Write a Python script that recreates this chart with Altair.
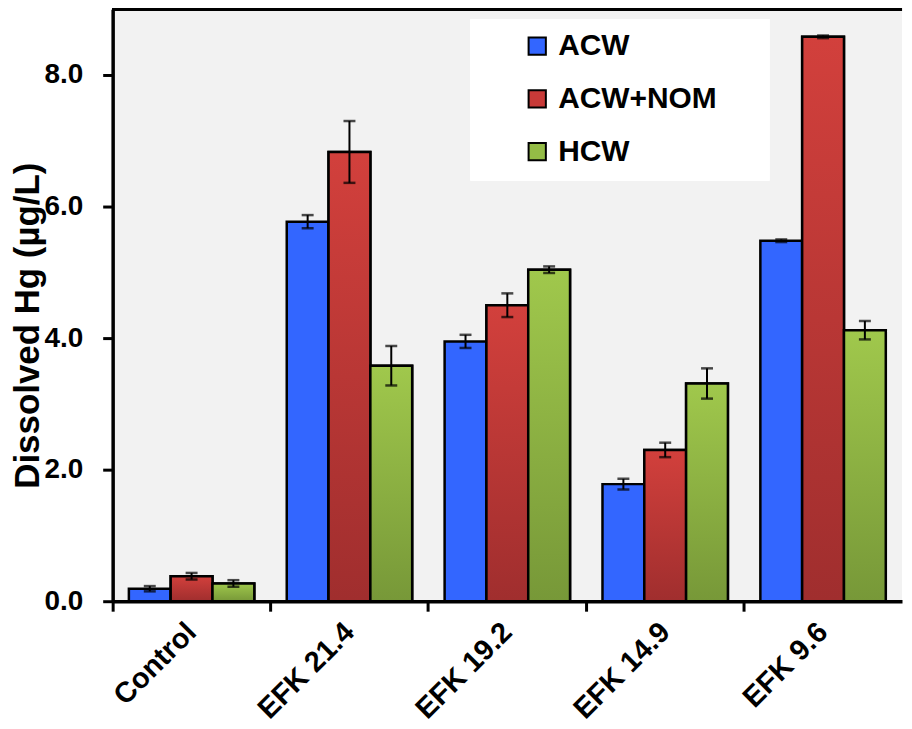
import altair as alt
import pandas as pd

categories = ["Control", "EFK 21.4", "EFK 19.2", "EFK 14.9", "EFK 9.6"]
series = ["ACW", "ACW+NOM", "HCW"]

acw = [0.19, 5.77, 3.95, 1.78, 5.48]
acw_err = [0.04, 0.10, 0.10, 0.08, 0.02]
nom = [0.38, 6.83, 4.50, 2.30, 8.58]
nom_err = [0.05, 0.47, 0.18, 0.11, 0.02]
hcw = [0.27, 3.58, 5.04, 3.31, 4.12]
hcw_err = [0.05, 0.30, 0.05, 0.23, 0.14]

solid_colors = ["#3366FF", "#C83A38", "#94BC46"]

rows = []
for name, vals, errs in [("ACW", acw, acw_err), ("ACW+NOM", nom, nom_err), ("HCW", hcw, hcw_err)]:
    for c, v, e in zip(categories, vals, errs):
        rows.append({"site": c, "series": name, "value": v, "lo": v - e, "hi": v + e})
df = pd.DataFrame(rows)

W = 792
H = 594
FONT = "Liberation Sans"

red_grad = {"gradient": "linear", "x1": 0, "y1": 0, "x2": 0, "y2": 1,
            "stops": [{"offset": 0, "color": "#D2403C"}, {"offset": 1, "color": "#A02E2E"}]}
green_grad = {"gradient": "linear", "x1": 0, "y1": 0, "x2": 0, "y2": 1,
              "stops": [{"offset": 0, "color": "#A0C84C"}, {"offset": 1, "color": "#779838"}]}

x_enc = alt.X("site:N", sort=categories,
              scale=alt.Scale(paddingInner=0, paddingOuter=0),
              axis=alt.Axis(title=None, labelAngle=-45, labelAlign="right", labelBaseline="middle",
                            labelFontSize=29, labelPadding=16, bandPosition=0, tickSize=10))
xo_enc = alt.XOffset("series:N", sort=series,
                     scale=alt.Scale(domain=series, paddingOuter=0.388, paddingInner=0))
y_enc = alt.Y("value:Q", scale=alt.Scale(domain=[0, 9], nice=False),
              axis=alt.Axis(title="Dissolved Hg (µg/L)", values=[0, 2, 4, 6, 8], format=".1f",
                            grid=False, labelFontSize=28, labelPadding=20, tickSize=10,
                            titleFontSize=35, titleAngle=270, titleX=-74, titleY=317,
                            titleAlign="center", titleBaseline="alphabetic"))

base = alt.Chart(df)

box = base.mark_rect(color="white").encode(
    x=alt.value(359), x2=alt.value(659), y=alt.value(10), y2=alt.value(172)
)

bars = base.mark_bar(stroke="black", strokeWidth=2.5).encode(
    x=x_enc, xOffset=xo_enc, y=y_enc,
    color=alt.Color("series:N", sort=series,
                    scale=alt.Scale(domain=series, range=solid_colors),
                    legend=alt.Legend(title=None, orient="none", legendX=411, legendY=22,
                                      symbolType="square", symbolSize=300, symbolStrokeColor="black",
                                      symbolStrokeWidth=2, symbolOpacity=1,
                                      labelFontSize=30, labelFont=FONT, labelFontWeight="bold",
                                      labelOffset=6, rowPadding=23, padding=0))
)

red_bars = base.transform_filter(alt.datum.series == "ACW+NOM").mark_bar(
    fill=red_grad, stroke="black", strokeWidth=2.5).encode(x=x_enc, xOffset=xo_enc, y=y_enc)
green_bars = base.transform_filter(alt.datum.series == "HCW").mark_bar(
    fill=green_grad, stroke="black", strokeWidth=2.5).encode(x=x_enc, xOffset=xo_enc, y=y_enc)

err_rule = base.mark_rule(color="black", strokeWidth=2).encode(
    x=x_enc, xOffset=xo_enc, y="lo:Q", y2="hi:Q")
cap_lo = base.mark_tick(color="black", thickness=2.5, size=12).encode(
    x=x_enc, xOffset=xo_enc, y="lo:Q")
cap_hi = base.mark_tick(color="black", thickness=2.5, size=12).encode(
    x=x_enc, xOffset=xo_enc, y="hi:Q")

top_line = base.mark_rule(color="black", strokeWidth=3.5).encode(
    x=alt.value(0), x2=alt.value(W), y=alt.value(0))

chart = alt.layer(box, bars, red_bars, green_bars, err_rule, cap_lo, cap_hi, top_line).properties(
    width=W, height=H, padding={"left": 3, "top": -2, "right": 0, "bottom": 0}
).configure(
    background="white"
).configure_view(
    fill="#F2F2F2", stroke=None
).configure_axis(
    domainColor="black", domainWidth=3.5, tickColor="black", tickWidth=3,
    labelColor="black", titleColor="black",
    labelFont=FONT, titleFont=FONT, labelFontWeight="bold", titleFontWeight="bold"
)

chart.save("out.html", embed_options={"renderer": "svg", "actions": False})
